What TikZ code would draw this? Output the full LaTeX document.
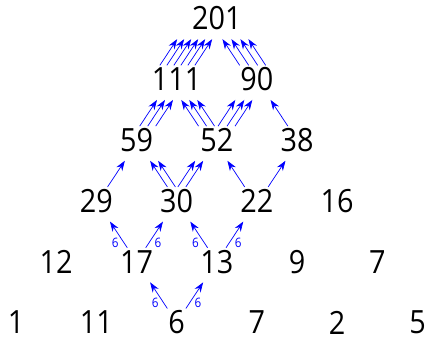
\documentclass[tikz,border=0pt]{standalone}
\usepackage{fontspec}
\setmainfont[FakeStretch=0.9]{Open Sans}
\usepackage{tikz}
\usetikzlibrary{arrows.meta, positioning, calc}
\definecolor{flowBlue}{HTML}{0000FF}
\tikzset{
  num/.style={
    inner sep=0pt,
    font=\fontsize{32}{38}\selectfont
  },
  flow/.style={
    -{Stealth[length=10pt,width=7pt]},
    draw=flowBlue, line width=0.7pt
  },
  lbl/.style={
    inner sep=0pt, text=flowBlue,
    font=\fontsize{13}{15}\selectfont
  },
}
% several parallel arrows from #1 up to #2, shifted by the list #3
\newcommand{\fanarrows}[3]{%
  \foreach \dx in {#3}
    \draw[flow] ($(#1)!0.23!(#2)+(\dx,0)$) -- ($(#1)!0.66!(#2)+(\dx,0)$);%
}

\begin{document}
\begin{tikzpicture}[x=1pt, y=-1pt]
    \useasboundingbox (0,0) rectangle (427,340);

    % bottom row
    \node[num] (a0) at (16.0,322.5) {1};
    \node[num] (a1) at (96.3,322.5) {11};
    \node[num] (a2) at (176.6,322.5) {6};
    \node[num] (a3) at (256.9,322.5) {7};
    \node[num] (a4) at (337.2,322.5) {2};
    \node[num] (a5) at (417.5,322.5) {5};

    \node[num] (b0) at (56.2,261.7) {12};
    \node[num] (b1) at (136.5,261.7) {17};
    \node[num] (b2) at (216.8,261.7) {13};
    \node[num] (b3) at (297.1,261.7) {9};
    \node[num] (b4) at (377.4,261.7) {7};

    \node[num] (c0) at (96.3,200.9) {29};
    \node[num] (c1) at (176.6,200.9) {30};
    \node[num] (c2) at (256.9,200.9) {22};
    \node[num] (c3) at (337.2,200.9) {16};

    \node[num] (d0) at (136.5,140.1) {59};
    \node[num] (d1) at (216.8,140.1) {52};
    \node[num] (d2) at (297.1,140.1) {38};

    \node[num] (e0) at (176.6,79.3) {111};
    \node[num] (e1) at (256.9,79.3) {90};

    \node[num] (f0) at (216.8,18.5) {201};

    % labelled single arrows
    \draw[flow] ($(a2)!0.23!(b1)$) -- node[lbl, pos=0.2, left=5pt] {6} ($(a2)!0.66!(b1)$);
    \draw[flow] ($(a2)!0.23!(b2)$) -- node[lbl, pos=0.2, right=5pt] {6} ($(a2)!0.66!(b2)$);
    \draw[flow] ($(b1)!0.23!(c0)$) -- node[lbl, pos=0.2, left=5pt] {6} ($(b1)!0.66!(c0)$);
    \draw[flow] ($(b1)!0.23!(c1)$) -- node[lbl, pos=0.2, right=5pt] {6} ($(b1)!0.66!(c1)$);
    \draw[flow] ($(b2)!0.23!(c1)$) -- node[lbl, pos=0.2, left=5pt] {6} ($(b2)!0.66!(c1)$);
    \draw[flow] ($(b2)!0.23!(c2)$) -- node[lbl, pos=0.2, right=5pt] {6} ($(b2)!0.66!(c2)$);

    % upper rows
    \fanarrows{c0}{d0}{2}
    \fanarrows{c1}{d0}{0,8}
    \fanarrows{c1}{d1}{-8,0}
    \fanarrows{c2}{d1}{-3}
    \fanarrows{c2}{d2}{2}

    \fanarrows{d0}{e0}{-6,2,10}
    \fanarrows{d1}{e0}{-9,-1,7}
    \fanarrows{d1}{e1}{-8,1,9}
    \fanarrows{d2}{e1}{0}

    \fanarrows{e0}{f0}{-26,-19,-12,-5,2,9}
    \fanarrows{e1}{f0}{-8,1,10,18}
  \end{tikzpicture}
\end{document}
